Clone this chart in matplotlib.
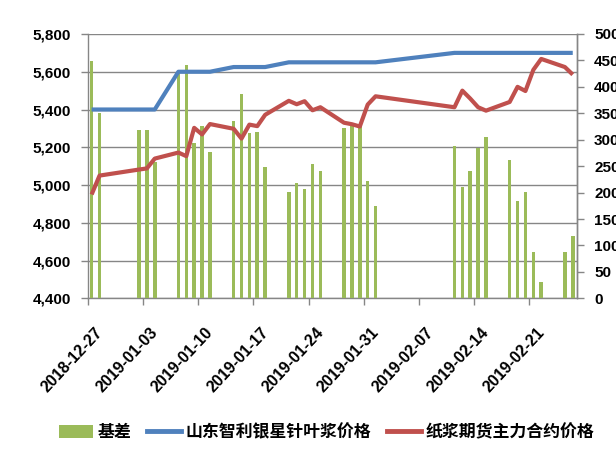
import matplotlib
matplotlib.use("Agg")
import matplotlib.pyplot as plt
import matplotlib.dates as mdates
import matplotlib.transforms as mtransforms
from matplotlib.patches import Patch
from matplotlib.lines import Line2D
from matplotlib.ticker import FuncFormatter, MultipleLocator
import pandas as pd

plt.rcParams['font.family'] = ['Liberation Sans', 'Noto Sans CJK SC', 'DejaVu Sans']
plt.rcParams['font.weight'] = 'bold'

dates = ["2018-12-27", "2018-12-28", "2019-01-02", "2019-01-03", "2019-01-04",
         "2019-01-07", "2019-01-08", "2019-01-09", "2019-01-10", "2019-01-11",
         "2019-01-14", "2019-01-15", "2019-01-16", "2019-01-17", "2019-01-18",
         "2019-01-21", "2019-01-22", "2019-01-23", "2019-01-24", "2019-01-25",
         "2019-01-28", "2019-01-29", "2019-01-30", "2019-01-31", "2019-02-01",
         "2019-02-11", "2019-02-12", "2019-02-13", "2019-02-14", "2019-02-15",
         "2019-02-18", "2019-02-19", "2019-02-20", "2019-02-21", "2019-02-22",
         "2019-02-25", "2019-02-26"]

basis = [449, 350, 318, 318, 258,
         430, 442, 293, 326, 276,
         335, 386, 312, 314, 249,
         202, 219, 207, 255, 240,
         323, 326, 327, 222, 175,
         288, 211, 241, 285, 306,
         262, 184, 202, 87, 30,
         87, 117]

spot = [5400, 5400, 5400, 5400, 5400,
        5600, 5600, 5600, 5600, 5600,
        5625, 5625, 5625, 5625, 5625,
        5650, 5650, 5650, 5650, 5650,
        5650, 5650, 5650, 5650, 5650,
        5700, 5700, 5700, 5700, 5700,
        5700, 5700, 5700, 5700, 5700,
        5700, 5700]

futures = [4950, 5050, 5082, 5088, 5140,
           5172, 5153, 5303, 5268, 5323,
           5298, 5246, 5320, 5312, 5372,
           5446, 5428, 5444, 5396, 5412,
           5330, 5322, 5310, 5426, 5470,
           5412, 5500, 5458, 5412, 5394,
           5440, 5520, 5498, 5610, 5668,
           5625, 5585]

tick_dates = ["2018-12-27", "2019-01-03", "2019-01-10", "2019-01-17", "2019-01-24",
              "2019-01-31", "2019-02-07", "2019-02-14", "2019-02-21"]

labels = ["基差", "山东智利银星针叶浆价格", "纸浆期货主力合约价格"]

green = "#9BBB59"
blue = "#4F81BD"
red = "#C0504D"
gray = "#868686"

x = pd.to_datetime(dates) + pd.Timedelta(hours=12)
xt = pd.to_datetime(tick_dates)

fig = plt.figure(figsize=(6.16, 4.54), dpi=100)
ax = fig.add_axes([87.7 / 616, 1 - 298.3 / 454, (576.7 - 87.7) / 616, (298.3 - 34) / 454])
ax2 = ax.twinx()
ax3 = ax.twinx()

# left axis with grid
ax.set_ylim(4400, 5800)
ax.yaxis.set_major_locator(MultipleLocator(200))
ax.yaxis.set_major_formatter(FuncFormatter(lambda v, p: f"{int(v):,}"))
ax.grid(axis='y', color=gray, linewidth=1.0)
ax.set_axisbelow(True)

# bars on right axis
ax2.bar(x, basis, width=0.45, color=green, zorder=2)
ax2.set_ylim(0, 500)
ax2.yaxis.set_major_locator(MultipleLocator(50))

# lines on a third axis sharing the left scale
ax3.set_ylim(4400, 5800)
ax3.plot(x, spot, color=blue, lw=3.0, solid_capstyle='butt', solid_joinstyle='round')
ax3.plot(x, futures, color=red, lw=3.0, solid_capstyle='butt', solid_joinstyle='round')
ax3.set_yticks([])
for s in ax3.spines.values():
    s.set_visible(False)

xmin = pd.Timestamp("2018-12-27")
xmax = pd.Timestamp("2019-02-27")
for a in (ax, ax2, ax3):
    a.set_xlim(xmin, xmax)

ax.set_xticks(xt)
ax.xaxis.set_major_formatter(mdates.DateFormatter("%Y-%m-%d"))

for a in (ax, ax2):
    a.spines['top'].set_visible(False)
    for side in ('left', 'right', 'bottom'):
        a.spines[side].set_color(gray)
        a.spines[side].set_linewidth(1.0)
    a.tick_params(axis='both', colors=gray, labelcolor='black', labelsize=11,
                  length=5, width=1.0, direction='out')
ax.tick_params(axis='x', pad=14, labelsize=11.5)
ax.tick_params(axis='y', pad=7)
ax2.tick_params(axis='y', pad=7.5)
ax2.spines['bottom'].set_visible(False)
ax2.spines['left'].set_visible(False)

offset = mtransforms.ScaledTranslation(7 / 100, 0, fig.dpi_scale_trans)
for lbl in ax.get_xticklabels():
    lbl.set_rotation(47)
    lbl.set_ha('right')
    lbl.set_rotation_mode('anchor')
    lbl.set_transform(lbl.get_transform() + offset)

handles = [Patch(facecolor=green, edgecolor='none'),
           Line2D([], [], color=blue, lw=3.5),
           Line2D([], [], color=red, lw=3.5)]
fig.legend(handles, labels, loc='center', bbox_to_anchor=(0.530, 1 - 432 / 454),
           ncol=3, frameon=False, prop={'size': 12.2, 'weight': 'bold'},
           handlelength=2.0, handleheight=0.8, handletextpad=0.25, columnspacing=0.95)

fig.savefig("out.png", dpi=100)
